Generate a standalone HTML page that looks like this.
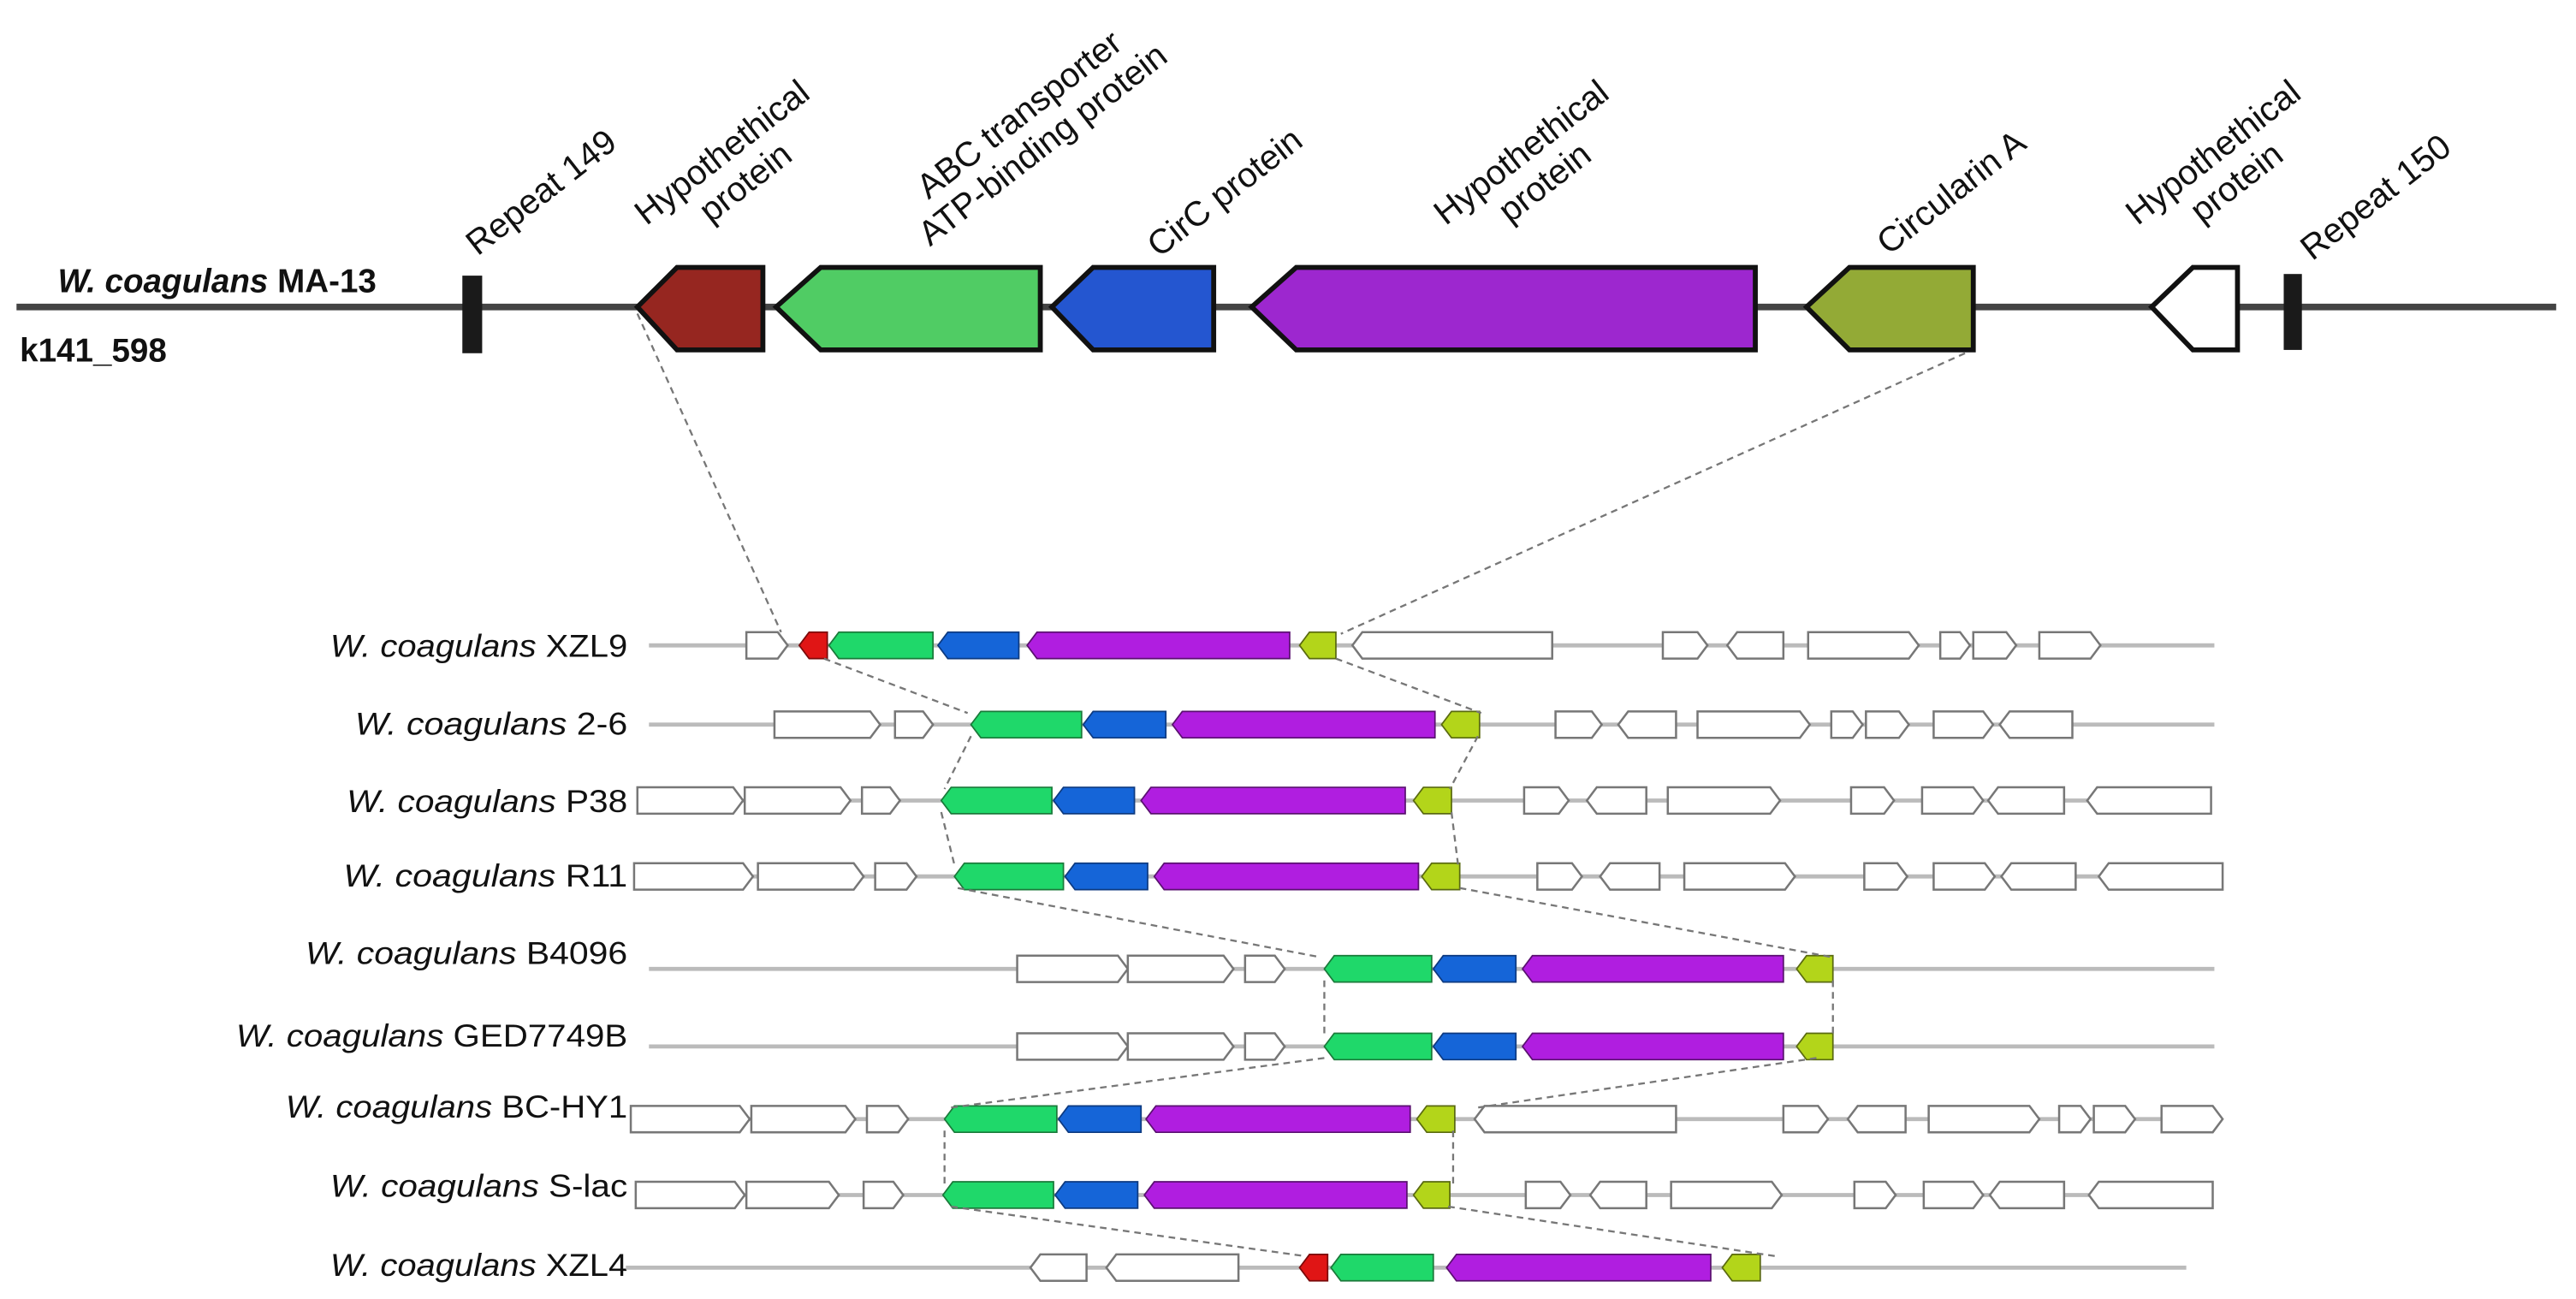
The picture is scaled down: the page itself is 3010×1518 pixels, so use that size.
<!DOCTYPE html>
<html><head><meta charset="utf-8"><style>
html,body{margin:0;padding:0;background:#fff;}
svg{display:block;}
.tl{font-family:"Liberation Sans",sans-serif;font-size:21px;fill:#111;}
.rl{font-family:"Liberation Sans Narrow","Liberation Sans",sans-serif;font-size:19px;fill:#111;}
.b{font-family:"Liberation Sans Narrow","Liberation Sans",sans-serif;font-size:20px;font-weight:bold;fill:#111;}
</style></head><body>
<svg id="s" width="3010" height="1518" viewBox="0 0 1560 787" preserveAspectRatio="none" xmlns="http://www.w3.org/2000/svg">
<line x1="10" y1="186" x2="1548" y2="186" stroke="#444" stroke-width="4"/>
<rect x="280" y="167" width="12" height="47" fill="#1a1a1a"/>
<rect x="1383" y="166" width="11" height="46" fill="#1a1a1a"/>
<g stroke="#111" stroke-width="3" stroke-linejoin="miter">
<polygon points="386,186 410,162 462,162 462,212 410,212" fill="#962620"/>
<polygon points="470,186 497,162 630,162 630,212 497,212" fill="#50cc64"/>
<polygon points="637,186 662,162 735,162 735,212 662,212" fill="#2456d0"/>
<polygon points="758,186 785,162 1063,162 1063,212 785,212" fill="#9d27cf"/>
<polygon points="1094,186 1120,162 1195,162 1195,212 1120,212" fill="#93aa36"/>
<polygon points="1303,186 1328,162 1355,162 1355,212 1328,212" fill="#fff"/>
</g>
<text x="35" y="177" class="b"><tspan font-style="italic">W. coagulans</tspan> MA-13</text>
<text x="12" y="219" class="b">k141_598</text>
<g class="tl">
<text transform="translate(332,122) rotate(-38)" text-anchor="middle">Repeat 149</text>
<g transform="translate(444,101) rotate(-38)"><text text-anchor="middle" y="-4">Hypothethical</text><text text-anchor="middle" y="19">protein</text></g>
<g transform="translate(624,78) rotate(-38)"><text text-anchor="middle" y="-4">ABC transporter</text><text text-anchor="middle" y="19">ATP-binding protein</text></g>
<text transform="translate(746,122) rotate(-38)" text-anchor="middle">CirC protein</text>
<g transform="translate(928,101) rotate(-38)"><text text-anchor="middle" y="-4">Hypothethical</text><text text-anchor="middle" y="19">protein</text></g>
<text transform="translate(1186,122) rotate(-38)" text-anchor="middle">Circularin A</text>
<g transform="translate(1347,101) rotate(-38)"><text text-anchor="middle" y="-4">Hypothethical</text><text text-anchor="middle" y="19">protein</text></g>
<text transform="translate(1443,125) rotate(-38)" text-anchor="middle">Repeat 150</text>
</g>
<g class="rl" text-anchor="end">
<text x="380" y="398" textLength="180" lengthAdjust="spacingAndGlyphs"><tspan font-style="italic">W. coagulans</tspan> XZL9</text>
<text x="380" y="445" textLength="165" lengthAdjust="spacingAndGlyphs"><tspan font-style="italic">W. coagulans</tspan> 2-6</text>
<text x="380" y="492" textLength="170" lengthAdjust="spacingAndGlyphs"><tspan font-style="italic">W. coagulans</tspan> P38</text>
<text x="380" y="537" textLength="172" lengthAdjust="spacingAndGlyphs"><tspan font-style="italic">W. coagulans</tspan> R11</text>
<text x="380" y="584" textLength="195" lengthAdjust="spacingAndGlyphs"><tspan font-style="italic">W. coagulans</tspan> B4096</text>
<text x="380" y="634" textLength="237" lengthAdjust="spacingAndGlyphs"><tspan font-style="italic">W. coagulans</tspan> GED7749B</text>
<text x="380" y="677" textLength="207" lengthAdjust="spacingAndGlyphs"><tspan font-style="italic">W. coagulans</tspan> BC-HY1</text>
<text x="380" y="725" textLength="180" lengthAdjust="spacingAndGlyphs"><tspan font-style="italic">W. coagulans</tspan> S-lac</text>
<text x="380" y="773" textLength="180" lengthAdjust="spacingAndGlyphs"><tspan font-style="italic">W. coagulans</tspan> XZL4</text>
</g>
<g id="rows"></g>
<g id="dash" fill="none" stroke="#777" stroke-width="1.2" stroke-dasharray="4,3"></g>
</svg>
<script>
var NS="http://www.w3.org/2000/svg";
var rows=document.getElementById("rows"),dash=document.getElementById("dash");
var C={w:["#fff","#777"],g:["#1fd86a","#1a7a3a"],b:["#1565d8","#0d3a80"],p:["#b01ee0","#5a1070"],o:["#b3d51a","#5a6a10"],r:["#e01515","#7a0a0a"]};
function line(x1,y1,x2,y2,p,c,w){var l=document.createElementNS(NS,"line");l.setAttribute("x1",x1);l.setAttribute("y1",y1);l.setAttribute("x2",x2);l.setAttribute("y2",y2);if(c){l.setAttribute("stroke",c);l.setAttribute("stroke-width",w);}p.appendChild(l);}
function gene(x1,x2,y,d,c){var t=Math.min(6,(x2-x1)*0.45),h=8,pts;
if(d=="r")pts=[x1,y-h,x2-t,y-h,x2,y,x2-t,y+h,x1,y+h];else pts=[x1,y,x1+t,y-h,x2,y-h,x2,y+h,x1+t,y+h];
var p=document.createElementNS(NS,"polygon");var s=[];for(var i=0;i<pts.length;i+=2)s.push(pts[i]+","+pts[i+1]);
p.setAttribute("points",s.join(" "));p.setAttribute("fill",C[c][0]);p.setAttribute("stroke",C[c][1]);p.setAttribute("stroke-width",c=="w"?1.3:0.9);rows.appendChild(p);}
var R=[
[391,393,1341,[[452,477,"r","w"],[484,501,"l","r"],[502,565,"l","g"],[568,617,"l","b"],[622,781,"l","p"],[787,809,"l","o"],[819,940,"l","w"],[1007,1034,"r","w"],[1046,1080,"l","w"],[1095,1162,"r","w"],[1175,1193,"r","w"],[1195,1221,"r","w"],[1235,1272,"r","w"]]],
[439,393,1341,[[469,533,"r","w"],[542,565,"r","w"],[588,655,"l","g"],[656,706,"l","b"],[710,869,"l","p"],[873,896,"l","o"],[942,970,"r","w"],[980,1015,"l","w"],[1028,1096,"r","w"],[1109,1128,"r","w"],[1130,1156,"r","w"],[1171,1207,"r","w"],[1211,1255,"l","w"]]],
[485,386,1337,[[386,450,"r","w"],[451,515,"r","w"],[522,545,"r","w"],[570,637,"l","g"],[638,687,"l","b"],[691,851,"l","p"],[856,879,"l","o"],[923,950,"r","w"],[961,997,"l","w"],[1010,1078,"r","w"],[1121,1147,"r","w"],[1164,1201,"r","w"],[1204,1250,"l","w"],[1264,1339,"l","w"]]],
[531,384,1344,[[384,456,"r","w"],[459,523,"r","w"],[530,555,"r","w"],[578,644,"l","g"],[645,695,"l","b"],[699,859,"l","p"],[861,884,"l","o"],[931,958,"r","w"],[969,1005,"l","w"],[1020,1087,"r","w"],[1129,1155,"r","w"],[1171,1208,"r","w"],[1212,1257,"l","w"],[1271,1346,"l","w"]]],
[587,393,1341,[[616,683,"r","w"],[683,747,"r","w"],[754,778,"r","w"],[802,867,"l","g"],[868,918,"l","b"],[922,1080,"l","p"],[1088,1110,"l","o"]]],
[634,393,1341,[[616,683,"r","w"],[683,747,"r","w"],[754,778,"r","w"],[802,867,"l","g"],[868,918,"l","b"],[922,1080,"l","p"],[1088,1110,"l","o"]]],
[678,382,1344,[[382,454,"r","w"],[455,518,"r","w"],[525,550,"r","w"],[572,640,"l","g"],[641,691,"l","b"],[694,854,"l","p"],[858,881,"l","o"],[893,1015,"l","w"],[1080,1107,"r","w"],[1119,1154,"l","w"],[1168,1235,"r","w"],[1247,1266,"r","w"],[1268,1293,"r","w"],[1309,1346,"r","w"]]],
[724,385,1338,[[385,451,"r","w"],[452,508,"r","w"],[523,547,"r","w"],[571,638,"l","g"],[639,689,"l","b"],[693,852,"l","p"],[856,878,"l","o"],[924,951,"r","w"],[963,997,"l","w"],[1012,1079,"r","w"],[1123,1148,"r","w"],[1165,1201,"r","w"],[1205,1250,"l","w"],[1265,1340,"l","w"]]],
[768,379,1324,[[624,658,"l","w"],[670,750,"l","w"],[787,804,"l","r"],[806,868,"l","g"],[876,1036,"l","p"],[1043,1066,"l","o"]]]
];
R.forEach(function(r){line(r[1],r[0],r[2],r[0],rows,"#bbb",2.5);r[3].forEach(function(g){gene(g[0],g[1],r[0],g[2],g[3]);});});
[[386,190,473,383],[1190,214,812,384],[499,399,586,432],[809,399,897,432],[588,446,572,478],[895,446,878,478],[570,492,578,524],[879,492,883,524],[580,538,800,580],[884,538,1110,580],[802,594,802,627],[1110,594,1110,627],[802,641,576,671],[1100,641,895,671],[572,685,572,717],[880,685,880,717],[576,731,790,761],[877,731,1075,761]].forEach(function(d){line(d[0],d[1],d[2],d[3],dash);});
</script>
</body></html>
